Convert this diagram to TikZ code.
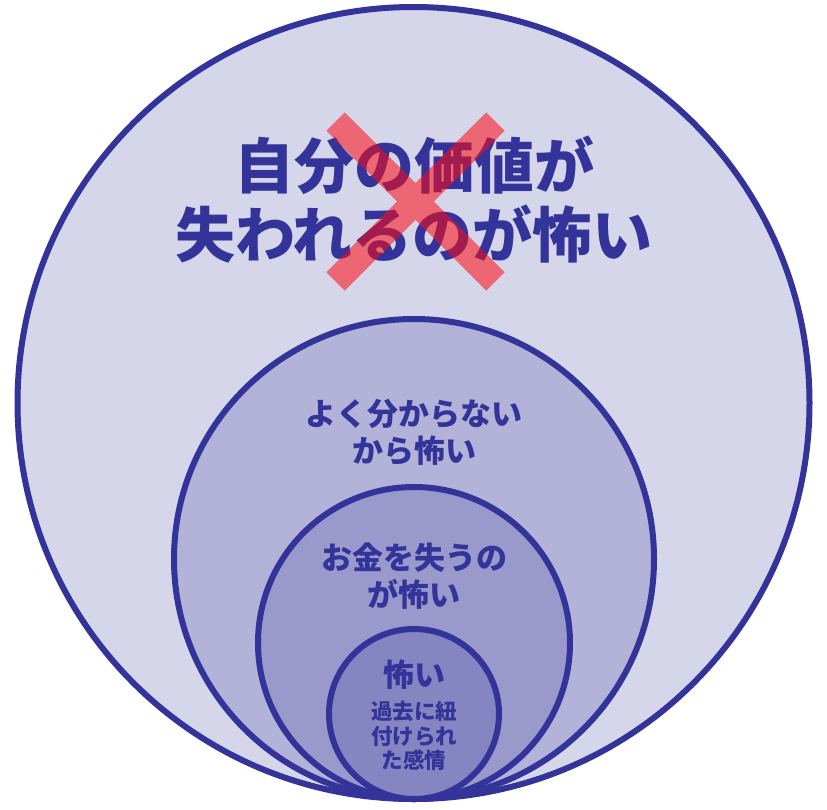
\documentclass[tikz,border=0pt]{standalone}
\usepackage{fontspec}
\setmainfont{Noto Sans CJK JP}
\usetikzlibrary{positioning}
\definecolor{ink}{RGB}{51,51,153}
\definecolor{fillA}{RGB}{213,214,234}
\definecolor{fillB}{RGB}{179,179,217}
\definecolor{fillC}{RGB}{153,153,204}
\definecolor{fillD}{RGB}{133,133,194}
\definecolor{xred}{RGB}{255,10,20}
\tikzset{
  ring/.style={circle, draw=ink, line width=6pt, inner sep=0pt},
  fear/.style={text=ink, align=center, inner sep=0pt},
  bigfear/.style={fear, font=\bfseries\fontsize{60}{69}\selectfont},
  midfear/.style={fear, font=\bfseries\fontsize{31}{37}\selectfont},
  smallfear/.style={fear, font=\bfseries\fontsize{21.5}{24.5}\selectfont},
  xmark/.style={draw=xred, line width=26pt, opacity=0.55}
}
\begin{document}
\begin{tikzpicture}[x=1pt, y=-1pt]
  \useasboundingbox (0,0) rectangle (827,809);
  % Rings
  \node[ring, fill=fillA, minimum size=792pt] (outer) at (413.5,403) {};
  \node[ring, fill=fillB, minimum size=480pt] (unknown) at (414,559) {};
  \node[ring, fill=fillC, minimum size=312pt] (money) at (414,643) {};
  \node[ring, fill=fillD, minimum size=170pt] (core) at (414,714) {};

  % Labels
  \node[bigfear] (worth) at (414,199.5) {自分の価値が\\失われるのが怖い};
  \node[midfear] (unknownText) at (414,432) {よく分からない\\から怖い};
  \node[midfear] (moneyText) at (414,576) {お金を失うの\\が怖い};
  \node[midfear] (coreTitle) at (414,675) {怖い};
  \node[smallfear] (coreText) at (414,736) {過去に紐\\付けられ\\た感情};

  % Cross
  \coordinate (crossNW) at (335.6,121.6);
  \coordinate (crossSE) at (495.4,281.4);
  \coordinate (crossNE) at (495.4,121.6);
  \coordinate (crossSW) at (335.6,281.4);
  \draw[xmark] (crossNW) -- (crossSE) (crossNE) -- (crossSW);
\end{tikzpicture}
\end{document}
